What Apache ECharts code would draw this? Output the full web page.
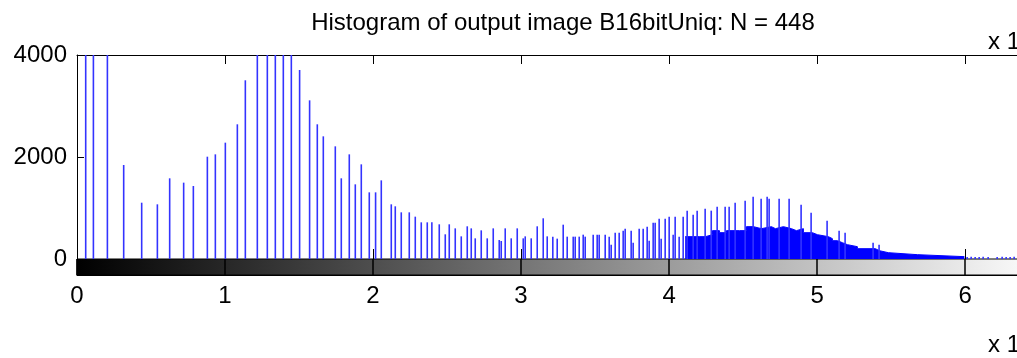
<!DOCTYPE html>
<html>
<head>
<meta charset="utf-8">
<title>Histogram of output image B16bitUniq</title>
<script src="https://cdn.jsdelivr.net/npm/echarts@6/dist/echarts.min.js"></script>
<style>
  html, body { margin: 0; padding: 0; background: #fff; overflow: hidden; }
  body { width: 1017px; height: 358px; position: relative; }
  /* the figure is wider and taller than the window; only its middle part is shown */
  #chart { position: absolute; left: 0; top: -40px; width: 1080px; height: 398px; }
</style>
</head>
<body>
<div id="chart"></div>
<script>
// Histogram of a 16-bit image: intensity bins (0..65535) and pixel counts per bin.
const titleText = 'Histogram of output image B16bitUniq: N = 448';
const xTickValues = [0, 10000, 20000, 30000, 40000, 50000, 60000];
const xMax = 65535;
const yTicks = [0, 2000, 4000];

// Individual stems (bin intensity, count). Counts above 4000 run off the top of the axes.
const stemBins = [
  588, 1108, 2053, 3154, 4370, 5430, 6261, 7206, 7861, 8807,
  9347, 10022, 10833, 11373, 12183, 12859, 13399, 13939, 14480, 15040,
  15715, 16235, 16641, 17451, 17856, 18396, 18802, 19207, 19747, 20173,
  20558, 21233, 21503, 21908, 22449, 22854, 23259, 23664, 23975, 24475,
  24880, 25150, 25555, 25961, 26366, 26636, 26906, 27311, 27716, 28122,
  28527, 28662, 28932, 29337, 29743, 30148, 30283, 30688, 31094, 31499,
  31769, 32147, 32444, 32849, 33119, 33525, 33660, 33930, 34200, 34335,
  34875, 35145, 35280, 35686, 35956, 36091, 36361, 36631, 36901, 37036,
  37441, 37576, 37982, 38252, 38522, 38657, 38927, 39062, 39332, 39467,
  39738, 40008, 40278, 40413, 40683, 40954, 41224, 41629, 41899, 42439,
  42850, 43250, 43790, 44060, 44465, 45141, 45681, 46221, 46627, 46762,
  47437, 48112, 48922, 49598, 50678, 51489, 51894, 53785, 54190,
  60141, 60411, 60681, 60951, 61221, 61559, 62167, 62504, 62775, 63045, 63315
];
const stemCounts = [
  9000, 7500, 8000, 1843, 1104, 1072, 1582, 1497, 1431, 2006,
  2052, 2281, 2641, 3504, 4800, 5200, 4900, 4600, 4300, 3706,
  3111, 2641, 2405, 2209, 1582, 2052, 1464, 1856, 1307, 1307,
  1542, 1072, 1033, 915, 915, 830, 719, 719, 719, 680,
  484, 680, 601, 444, 641, 601, 405, 562, 405, 601,
  372, 353, 601, 405, 601, 405, 444, 405, 641, 798,
  444, 438, 399, 673, 438, 438, 438, 438, 477, 438,
  477, 477, 477, 477, 438, 281, 516, 516, 556, 595,
  556, 320, 595, 595, 634, 359, 712, 712, 791, 399,
  791, 830, 477, 830, 438, 830, 948, 869, 948, 987,
  948, 1026, 1026, 1026, 1104, 1144, 1222, 1183, 1222, 1183,
  1183, 1183, 1065, 908, 751, 556, 516, 320, 281,
  40, 45, 40, 40, 45, 40, 40, 45, 40, 40, 45
];

// Densely packed bins in the upper range: lower envelope of the stem cluster.
const floorBins = [
  41089, 42034, 42459, 42932, 43405, 43877, 44755, 45228, 45701, 46241,
  46916, 47186, 47727, 48267, 48605, 49077, 49685, 50023, 50766, 51036,
  51374, 51711, 52049, 52724, 53940, 54210, 54818, 56777, 59951
];
const floorCounts = [
  438, 438, 477, 556, 516, 556, 556, 634, 595, 634,
  595, 634, 595, 556, 595, 516, 477, 438, 399, 359,
  320, 281, 242, 202, 163, 124, 85, 46, 46
];

const FONT = '"Liberation Sans", Arial, Helvetica, sans-serif';
const OY = 40; // vertical offset of the figure inside its canvas
const chart = echarts.init(document.getElementById('chart'), null, { renderer: 'canvas' });

const stems = stemBins.map((b, i) => [b, stemCounts[i]]);
const floor = floorBins.map((b, i) => [b, floorCounts[i]]);

const plotLeft = 77;
const plotWidth = 970;
const tickLabel = v => (xTickValues.includes(v) ? String(v / 10000) : '');

chart.setOption({
  animation: false,
  backgroundColor: '#fff',
  title: {
    text: titleText,
    left: 558, top: 6 + OY, textAlign: 'center',
    textStyle: { fontFamily: FONT, fontSize: 24, fontWeight: 'normal', color: '#000' }
  },
  grid: [
    // histogram axes
    { left: plotLeft, top: 55 + OY, width: plotWidth, height: 204 },
    // gray-level colorbar strip
    {
      left: plotLeft, top: 259 + OY, width: plotWidth, height: 16, show: true,
      borderColor: '#000', borderWidth: 1,
      backgroundColor: new echarts.graphic.LinearGradient(0, 0, 1, 0, [
        { offset: 0, color: '#000' }, { offset: 1, color: '#fff' }
      ])
    },
    // axis of the subplot above (only its tick labels' lower edge shows)
    { left: plotLeft, top: 2, width: plotWidth, height: 8 }
  ],
  xAxis: [
    {
      gridIndex: 0, type: 'value', min: 0, max: xMax, interval: 10000, position: 'bottom',
      axisLine: { show: false },
      axisTick: { show: true, inside: true, length: 10, lineStyle: { color: '#000' } },
      axisLabel: { show: false }, splitLine: { show: false }
    },
    {
      gridIndex: 0, type: 'value', min: 0, max: xMax, interval: 10000, position: 'top',
      axisLine: { show: true, lineStyle: { color: '#000', width: 1 } },
      axisTick: { show: true, inside: true, length: 9, lineStyle: { color: '#000' } },
      axisLabel: { show: false }, splitLine: { show: false }
    },
    {
      gridIndex: 1, type: 'value', min: 0, max: xMax, interval: 10000, position: 'bottom',
      axisLine: { show: true, lineStyle: { color: '#000', width: 1 } },
      axisTick: { show: true, inside: true, length: 16, lineStyle: { color: '#000', width: 1.5 } },
      axisLabel: {
        show: true, margin: 9, fontFamily: FONT, fontSize: 24, color: '#000',
        showMaxLabel: false, formatter: tickLabel
      },
      splitLine: { show: false }
    },
    {
      gridIndex: 2, type: 'value', min: 0, max: xMax, interval: 10000, position: 'bottom',
      axisLine: { show: false }, axisTick: { show: false },
      axisLabel: {
        show: true, margin: 8, fontFamily: FONT, fontSize: 24, color: '#000',
        showMaxLabel: false, formatter: tickLabel
      },
      splitLine: { show: false }
    }
  ],
  yAxis: [
    {
      gridIndex: 0, type: 'value', min: yTicks[0], max: yTicks[yTicks.length - 1], interval: 2000,
      axisLine: { show: true, lineStyle: { color: '#000', width: 1 } },
      axisTick: { show: true, inside: true, length: 7, lineStyle: { color: '#000' } },
      axisLabel: {
        show: true, margin: 10, fontFamily: FONT, fontSize: 24, color: '#000',
        formatter: v => String(v)
      },
      splitLine: { show: false }
    },
    { gridIndex: 1, type: 'value', min: 0, max: 1, show: false },
    { gridIndex: 2, type: 'value', min: 0, max: 1, show: false }
  ],
  series: [
    {
      name: 'dense bins', type: 'line', xAxisIndex: 0, yAxisIndex: 0,
      step: 'end', data: floor, symbol: 'none', silent: true,
      lineStyle: { color: '#0000ff', width: 1 },
      areaStyle: { color: '#0000ff', opacity: 1 },
      z: 2
    },
    {
      name: 'counts', type: 'bar', xAxisIndex: 0, yAxisIndex: 0,
      data: stems, barWidth: 1.6, silent: true,
      itemStyle: { color: '#3333ff' },
      z: 3
    }
  ],
  graphic: [
    {
      type: 'text', left: 988, top: 30 + OY,
      style: { text: 'x 10', font: '24px ' + FONT, fill: '#000' }
    },
    {
      type: 'text', left: 988, top: 333 + OY,
      style: { text: 'x 10', font: '24px ' + FONT, fill: '#000' }
    }
  ]
});
</script>
</body>
</html>
